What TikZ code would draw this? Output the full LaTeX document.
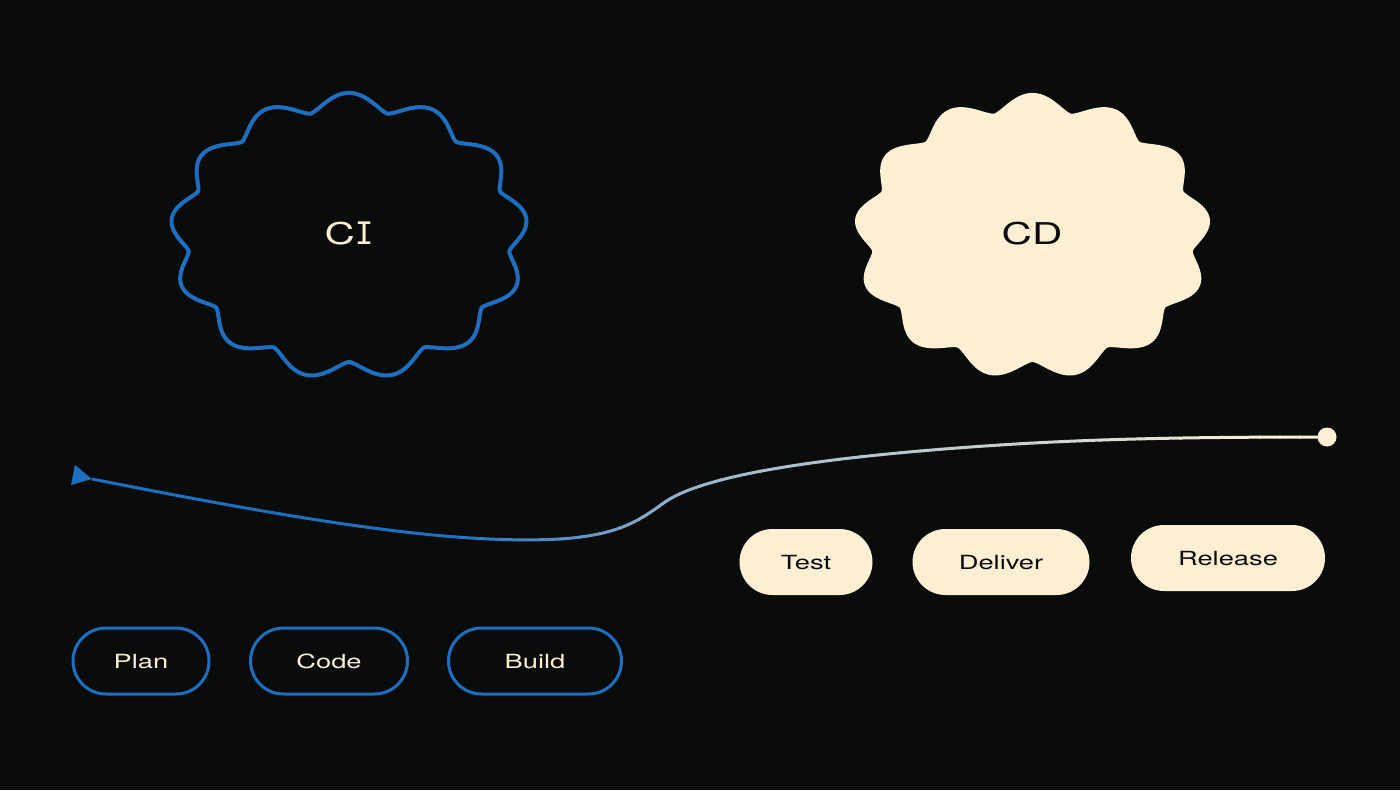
\documentclass[tikz,border=0pt]{standalone}
\usepackage{fontspec}
\setmainfont[FakeStretch=1.4]{TeX Gyre Heros}
\newfontfamily\barI{DejaVu Sans Mono}
\usetikzlibrary{shapes.misc}
\definecolor{bg}{HTML}{0A0C0C}
\definecolor{ciblue}{HTML}{1F6FC1}
\definecolor{cream}{HTML}{FCEFD4}
\definecolor{ink}{HTML}{0A0C0C}
\tikzset{
  pillbase/.style={rounded rectangle, minimum height=66pt, inner sep=0pt,
    font=\fontsize{19.5}{19.5}\selectfont, text height=14pt, text depth=0pt},
  cipill/.style={pillbase, draw=ciblue, line width=3pt, fill=bg, text=cream},
  cdpill/.style={pillbase, fill=cream, text=ink},
  bigtext/.style={inner sep=0pt, font=\fontsize{30}{30}\selectfont, text height=21.6pt, text depth=0pt},
  wave/.style={line width=4pt, line join=round},
}
\begin{document}
\begin{tikzpicture}[x=1pt,y=-1pt]
\useasboundingbox (0,0) rectangle (1400,790);
\fill[bg] (0,0) rectangle (1400,790);

% CI wavy outline
\draw[wave, draw=ciblue] plot[domain=0:359.5, samples=720, variable=\t]
  ({349 + (170 + 8.6*(2*abs(cos(6.5*(\t-90)))^1.4-1))*cos(\t)}, {236 - (134.5 + 8.6*(2*abs(cos(6.5*(\t-90)))^1.4-1))*sin(\t)}) -- cycle;
\node[bigtext, text=cream] (ci) at (349,234) {C{\barI\fontsize{31}{31}\selectfont I}};

% CD wavy blob
\fill[cream] plot[domain=0:359.5, samples=720, variable=\t]
  ({1032.5 + (170 + 8.6*(2*abs(cos(6.5*(\t-90)))^1.4-1))*cos(\t)}, {236 - (134.5 + 8.6*(2*abs(cos(6.5*(\t-90)))^1.4-1))*sin(\t)}) -- cycle;
\node[bigtext, text=ink] (cd) at (1032,234) {CD};

% curve
\coordinate (start) at (92,479);
\node[circle, fill=cream, minimum size=19pt, inner sep=0pt] (endpt) at (1327,437) {};
\foreach \xa/\pp in {60/0,80/0,100/0,120/0,140/0,160/0,180/0,200/0,220/0,240/0,260/0,280/0,300/0,320/0,340/0,360/0,380/0,400/0,420/0,440/0,460/4,480/8,500/12,520/17,540/22,560/27,580/32,600/37,620/42,640/47,660/51,680/54,700/56,720/58,740/60,760/62,780/63,800/64,820/65,840/66,860/67,880/68,900/69,920/70,940/72,960/73,980/74,1000/76,1020/77,1040/79,1060/81,1080/83,1100/85,1120/86,1140/88,1160/90,1180/92,1200/94,1220/96,1240/98,1260/100,1280/100,1300/100,1320/100}{
  \colorlet{stripcol}{cream!\pp!ciblue}
  \begin{scope}
    \clip (\xa-0.6,400) rectangle (\xa+20.6,600);
    \draw[stripcol, line width=3pt] (start) .. controls (300,520) and (450,545) .. (560,539)
      .. controls (620,535) and (640,520) .. (665,502)
      .. controls (700,478) and (800,458) .. (1000,445)
      .. controls (1100,438.5) and (1200,437) .. (endpt.center);
  \end{scope}
}
\fill[ciblue] (start) -- ++(-17,-14) -- ++(-4,20) -- cycle;

% pills
\node[cdpill, minimum width=133pt] (test) at (806,562) {Test};
\node[cdpill, minimum width=177pt] (deliver) at (1001,562) {Deliver};
\node[cdpill, minimum width=194pt] (release) at (1228,558) {Release};
\node[cipill, minimum width=136pt] (plan) at (141,661) {Plan};
\node[cipill, minimum width=157pt] (code) at (329,661) {Code};
\node[cipill, minimum width=173pt] (build) at (535,661) {Build};
\end{tikzpicture}
\end{document}
